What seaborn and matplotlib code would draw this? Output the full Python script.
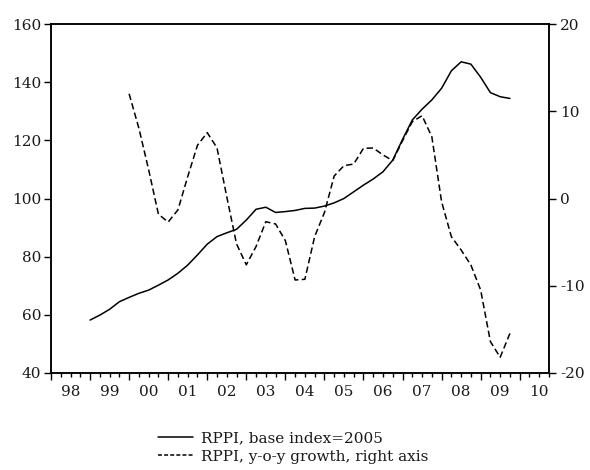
import numpy as np
import pandas as pd
import matplotlib
matplotlib.use("Agg")
import matplotlib.pyplot as plt
import seaborn as sns
from matplotlib.lines import Line2D

# Quarterly data
rppi_start = 1999.0  # 1999Q1
rppi_index = [58.2, 59.9, 61.9, 64.5, 66.0, 67.4, 68.5, 70.2, 72.0, 74.3,
              77.1, 80.6, 84.3, 86.9, 88.2, 89.4, 92.6, 96.3, 97.0, 95.2,
              95.5, 95.9, 96.6, 96.7, 97.4, 98.5, 100.0, 102.3, 104.6, 106.7,
              109.2, 113.2, 120.3, 127.0, 130.7, 133.9, 137.9, 143.9, 147.0, 146.2,
              141.7, 136.4, 135.0, 134.4]
yoy_start = 2000.0  # 2000Q1
rppi_yoy = [12.0, 8.05, 3.3, -1.8, -2.7, -1.3, 2.5, 6.1, 7.55, 5.8,
            0.2, -5.2, -7.6, -5.5, -2.66, -2.92, -4.83, -9.34, -9.26, -4.37,
            -1.62, 2.58, 3.76, 3.95, 5.75, 5.79, 4.99, 4.34, 6.63, 8.8,
            9.49, 7.08, -0.37, -4.37, -5.9, -7.62, -10.49, -16.4, -18.2, -15.45]
year_labels = ["98", "99", "00", "01", "02", "03", "04", "05", "06", "07", "08", "09", "10"]
legend_labels = ["RPPI, base index=2005", "RPPI, y-o-y growth, right axis"]

df1 = pd.DataFrame({"t": rppi_start + np.arange(len(rppi_index)) / 4.0, "v": rppi_index})
df2 = pd.DataFrame({"t": yoy_start + np.arange(len(rppi_yoy)) / 4.0, "v": rppi_yoy})

sns.set_theme(style="white")
plt.rcParams["font.family"] = ["DejaVu Serif", "Liberation Serif"]
plt.rcParams["axes.unicode_minus"] = False

FS = 11
TXT = "#1a1a1a"

fig = plt.figure(figsize=(5.9, 4.7), dpi=100)
ax = fig.add_axes([51/590, 1 - 373/470, (549 - 51)/590, (373 - 24)/470])
ax2 = ax.twinx()

sns.lineplot(data=df1, x="t", y="v", ax=ax, color="black", linewidth=1.1, legend=False)
sns.lineplot(data=df2, x="t", y="v", ax=ax2, color="black", linewidth=1.1, legend=False)
ax2.lines[0].set_dashes([4.2, 2.2])

ax.set_xlim(1998.0, 2010.75)
ax.set_ylim(40, 160)
ax2.set_ylim(-20, 20)
ax.set_yticks([40, 60, 80, 100, 120, 140, 160])
ax2.set_yticks([-20, -10, 0, 10, 20])
for a in (ax, ax2):
    a.set_xlabel("")
    a.set_ylabel("")
    for s in a.spines.values():
        s.set_color("black")
        s.set_linewidth(1.1)
    a.grid(False)

ax.tick_params(axis="y", which="major", direction="out", length=5, width=1, color="black",
               labelsize=FS, pad=2, left=True, labelcolor=TXT)
ax2.tick_params(axis="y", which="major", direction="out", length=5, width=1, color="black",
                labelsize=FS, pad=3, right=True, labelcolor=TXT)

years = np.arange(1998, 2011)
ax.set_xticks(years)
ax.set_xticklabels([])
ax.set_xticks(np.arange(1998.0, 2010.76, 0.25), minor=True)
ax.tick_params(axis="x", which="major", direction="out", length=5, width=1, color="black", bottom=True)
ax.tick_params(axis="x", which="minor", direction="out", length=3, width=1, color="black", bottom=True)

sec = ax.secondary_xaxis("bottom")
sec.set_xticks(years + 0.5)
sec.set_xticklabels(year_labels)
sec.tick_params(length=0, labelsize=FS, pad=9, labelcolor=TXT)
sec.spines["bottom"].set_visible(False)

h1 = Line2D([], [], color="black", linewidth=1.1)
h2 = Line2D([], [], color="black", linewidth=1.1, dashes=[2.6, 1.4])
fig.legend([h1, h2], legend_labels, loc="upper left", bbox_to_anchor=(158/590, 1 - 431/470),
           frameon=False, fontsize=FS, handlelength=2.3, handletextpad=0.5,
           labelspacing=0.3, borderaxespad=0, borderpad=0, labelcolor=TXT)

fig.savefig("out.png", dpi=100)
